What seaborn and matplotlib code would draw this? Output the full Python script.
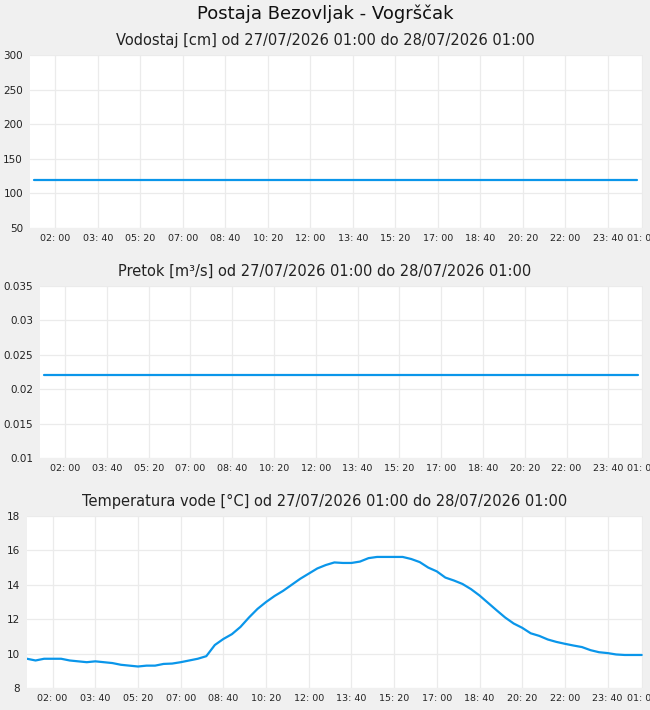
import numpy as np
import pandas as pd
import matplotlib
matplotlib.use("Agg")
import matplotlib.pyplot as plt
import matplotlib.dates as mdates
import seaborn as sns

# time axis: 27/07/2026 01:00 -> 28/07/2026 01:00
start = pd.Timestamp("2026-07-27 01:00")
end = pd.Timestamp("2026-07-28 01:00")

# flat series (Vodostaj, Pretok)
flat_times = pd.date_range("2026-07-27 01:10", "2026-07-28 01:00", freq="20min")
vodostaj = [120] * len(flat_times)
pretok = [0.022] * len(flat_times)

# water temperature, read every 20 minutes
temp_times = pd.date_range("2026-07-27 01:00", "2026-07-28 01:00", freq="20min")
temperatura = [
    9.7, 9.6, 9.7, 9.7, 9.7, 9.6, 9.55, 9.5, 9.55, 9.5,
    9.45, 9.35, 9.3, 9.25, 9.3, 9.3, 9.4, 9.42, 9.5, 9.6,
    9.7, 9.85, 10.5, 10.85, 11.13, 11.55, 12.1, 12.6, 13.0, 13.35,
    13.65, 14.0, 14.35, 14.65, 14.95, 15.15, 15.3, 15.27, 15.27, 15.35,
    15.55, 15.62, 15.62, 15.62, 15.62, 15.5, 15.32, 15.0, 14.78, 14.42,
    14.25, 14.05, 13.75, 13.38, 12.95, 12.52, 12.1, 11.75, 11.5, 11.18,
    11.03, 10.82, 10.68, 10.57, 10.47, 10.38, 10.2, 10.08, 10.03, 9.95,
    9.92, 9.92, 9.92,
]

xticks = list(pd.date_range("2026-07-27 02:00", "2026-07-28 00:59", freq="100min")) + [end]

sns.set_theme(style="white")
plt.rcParams["font.family"] = ["DejaVu Sans"]

BG = "#f0f0f0"
LINE = "#0a96ea"
GRID = "#ebebeb"

fig = plt.figure(figsize=(6.5, 7.1), dpi=100, facecolor=BG)
fig.text(0.5, 0.981, "Postaja Bezovljak - Vogrščak", ha="center", va="center",
         fontsize=13, color="#111111")

W, H = 650, 710
panels = [
    # left, top, bottom (pixels), data, ylim, yticks, labels, title
    (30, 55, 228, flat_times, vodostaj, (50, 300), [50, 100, 150, 200, 250, 300],
     ["50", "100", "150", "200", "250", "300"],
     "Vodostaj [cm] od 27/07/2026 01:00 do 28/07/2026 01:00"),
    (40, 286, 458, flat_times, pretok, (0.01, 0.035),
     [0.01, 0.015, 0.02, 0.025, 0.03, 0.035],
     ["0.01", "0.015", "0.02", "0.025", "0.03", "0.035"],
     "Pretok [m³/s] od 27/07/2026 01:00 do 28/07/2026 01:00"),
    (27, 516, 688, temp_times, temperatura, (8, 18), [8, 10, 12, 14, 16, 18],
     ["8", "10", "12", "14", "16", "18"],
     "Temperatura vode [°C] od 27/07/2026 01:00 do 28/07/2026 01:00"),
]

for left, top, bottom, times, vals, ylim, yt, ylab, title in panels:
    ax = fig.add_axes([left / W, 1 - bottom / H, (643 - left) / W, (bottom - top) / H])
    ax.set_facecolor("white")
    df = pd.DataFrame({"t": times, "v": vals})
    sns.lineplot(data=df, x="t", y="v", ax=ax, color=LINE, linewidth=1.6)
    ax.set_xlim(start, end + pd.Timedelta(minutes=3))
    ax.set_ylim(*ylim)
    ax.set_yticks(yt)
    ax.set_yticklabels(ylab, fontsize=7.5, color="#222222")
    ax.set_xticks(xticks)
    ax.set_xticklabels([t.strftime("%H: %M") for t in xticks], fontsize=6.8, color="#222222")
    ax.tick_params(axis="both", length=0, pad=4)
    ax.tick_params(axis="y", pad=5)
    ax.grid(True, color=GRID, linewidth=0.9)
    ax.set_axisbelow(True)
    for s in ax.spines.values():
        s.set_visible(False)
    ax.set_xlabel("")
    ax.set_ylabel("")
    fig.text(0.5, 1 - (top - 15) / H, title, ha="center", va="center",
             fontsize=10.5, color="#222222")

fig.savefig("out.png", dpi=100, facecolor=BG)
